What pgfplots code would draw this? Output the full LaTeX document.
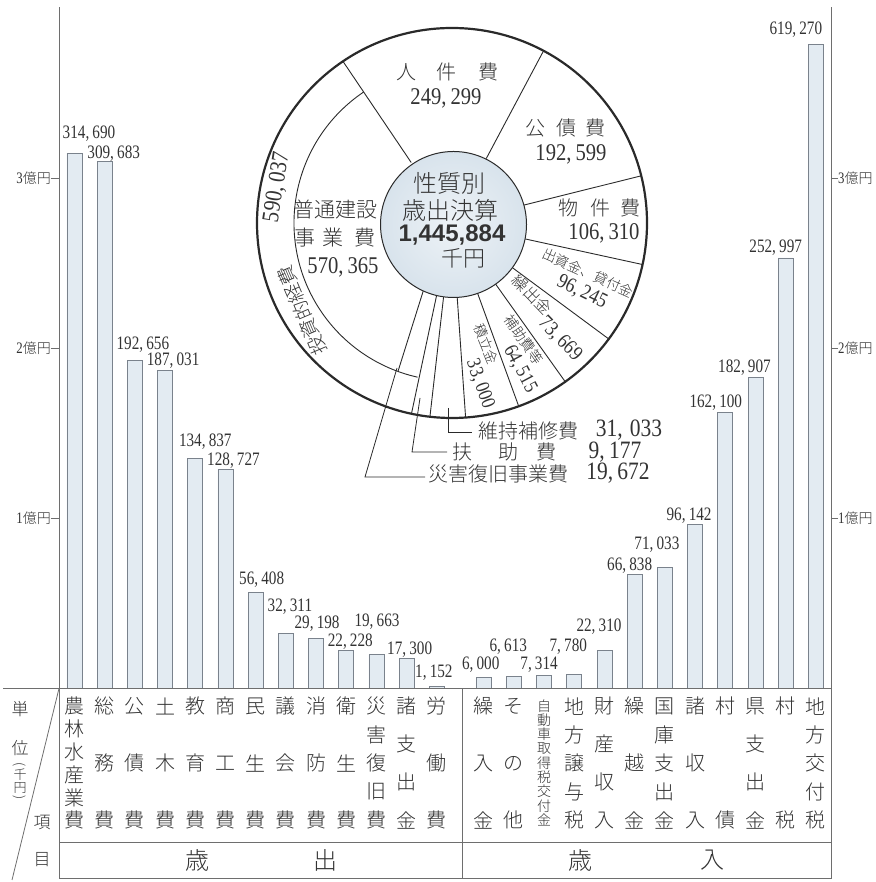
\documentclass[border=0pt]{standalone}
\usepackage{pgfplots}
\pgfplotsset{compat=1.18}
\usepackage{pgfplotstable}
\usepackage{fontspec}
\setmainfont{Noto Sans CJK JP Light}
\newfontfamily\num{Liberation Serif}[FakeStretch=0.8]
\newfontfamily\pnum{Liberation Serif}[FakeStretch=0.86]
\newfontfamily\bnum{Liberation Sans}
\newcommand\fs[1]{\fontsize{#1}{#1}\selectfont}
\definecolor{barfill}{HTML}{E3EBF2}
\definecolor{baredge}{HTML}{7A828C}
\definecolor{txt}{HTML}{333333}
\definecolor{tbl}{HTML}{6E6E6E}
\definecolor{pieline}{HTML}{2A2A2A}
\definecolor{centerfill}{HTML}{D8E3EC}

\newdimen\cbh \cbh=20pt
\newcommand\cbox[1]{\hbox to 24pt{\hss\vbox to \cbh{\vss\hbox{#1}\vss}\hss}}
\let\vsend\relax
\def\vsfirst#1{\cbox{#1}\vsrest}
\def\vsrest#1{\ifx\vsend#1\else\vfill\cbox{#1}\expandafter\vsrest\fi}
\protected\def\vs#1{\vbox to 134pt{\offinterlineskip\vsfirst#1\vsend}}
\protected\def\vsmall#1{{\fs{14}\cbh=14pt\vbox to 134pt{\offinterlineskip\kern3pt\vsfirst#1\vsend\kern3pt}}}

\pgfplotstableread{
x y dx dy lab
0 314690 14.5 19 314,\,690
1 309683 9 8 309,\,683
2 192656 8 16 192,\,656
3 187031 8 9 187,\,031
4 134837 10 17 134,\,837
5 128727 8 9 128,\,727
6 56408 6 12 56,\,408
7 32311 4 26 32,\,311
8 29198 1 15 29,\,198
9 22228 4 9 22,\,228
10 19663 0.5 33 19,\,663
11 17300 3 9 17,\,300
12 1152 -3 13 1,\,152
13.55 6000 -3 13 6,\,000
14.55 6613 -5.6 30 6,\,613
15.55 7314 -5 10.6 7,\,314
16.55 7780 -6 28 7,\,780
17.55 22310 -5.5 23 22,\,310
18.55 66838 -5 9 66,\,838
19.55 71033 -8 23 71,\,033
20.55 96142 -6 9 96,\,142
21.55 162100 -9.5 9.4 162,\,100
22.55 182907 -11 9 182,\,907
23.55 252997 -10 10 252,\,997
24.55 378800 -20 14 619,\,270
}\bardata

\begin{document}
\begin{tikzpicture}[every node/.append style={text=txt}]
\path[use as bounding box] (0,0) rectangle (875pt,882pt);

\begin{axis}[
  at={(59pt,194pt)}, anchor=south west,
  scale only axis, width=772pt, height=681pt,
  xmin=-0.513, xmax=25.05, ymin=0, ymax=400588,
  axis y line*=left, axis x line*=bottom,
  x axis line style={draw=none},
  y axis line style={draw=tbl, line width=0.8pt, -},
  xtick={0,1,2,3,4,5,6,7,8,9,10,11,12,13.55,14.55,15.55,16.55,17.55,18.55,19.55,20.55,21.55,22.55,23.55,24.55},
  xticklabels={\vs{農林水産業費},\vs{総務費},\vs{公債費},\vs{土木費},\vs{教育費},\vs{商工費},\vs{民生費},\vs{議会費},\vs{消防費},\vs{衛生費},\vs{災害復旧費},\vs{諸支出金},\vs{労働費},\vs{繰入金},\vs{その他},\vsmall{自動車取得税交付金},\vs{地方譲与税},\vs{財産収入},\vs{繰越金},\vs{国庫支出金},\vs{諸収入},\vs{村債},\vs{県支出金},\vs{村税},\vs{地方交付税}},
  xtick style={draw=none},
  xticklabel style={anchor=north, inner sep=0pt, font=\fs{20}, text=txt},
  ytick={100000,200000,300000},
  yticklabels={{\num\fs{16}1}億円,{\num\fs{16}2}億円,{\num\fs{16}3}億円},
  scaled y ticks=false,
  tick align=outside, major tick length=8pt,
  ytick style={draw=tbl, line width=0.8pt},
  yticklabel style={anchor=east, inner sep=0pt, font=\fs{14}, text=txt},
  clip=false,
  ybar, bar width=15pt,
]
\addplot[fill=barfill, draw=baredge, line width=0.7pt,
  nodes near coords, point meta=explicit symbolic,
  visualization depends on={\thisrow{dx}\as\dx},
  visualization depends on={\thisrow{dy}\as\dy},
  every node near coord/.append style={anchor=center, xshift=\dx, yshift=\dy,
     font=\num\fs{19}, text=txt, inner sep=0pt}]
  table[x=x, y=y, meta=lab] {\bardata};
\end{axis}

\begin{axis}[
  at={(59pt,194pt)}, anchor=south west,
  scale only axis, width=772pt, height=681pt,
  xmin=-0.513, xmax=25.05, ymin=0, ymax=400588,
  axis y line*=right, axis x line=none,
  y axis line style={draw=tbl, line width=0.8pt, -},
  ytick={100000,200000,300000},
  yticklabels={{\num\fs{16}1}億円,{\num\fs{16}2}億円,{\num\fs{16}3}億円},
  scaled y ticks=false,
  tick align=outside, major tick length=7pt,
  ytick style={draw=tbl, line width=0.8pt},
  yticklabel style={anchor=west, inner sep=0pt, font=\fs{14}, text=txt},
]
\addplot[draw=none] coordinates {(0,0)};
\end{axis}

% table frame and pixel-space annotations
\begin{scope}[shift={(0,882pt)}, x=1pt, y=-1pt]
  \draw[tbl, line width=0.8pt] (3,688.5) -- (831,688.5);
  \draw[tbl, line width=0.8pt] (59,688.5) -- (59,878) -- (831,878) -- (831,688.5);
  \draw[tbl, line width=0.8pt] (59,842) -- (831,842);
  \draw[tbl, line width=0.8pt] (462,688.5) -- (462,878);
  \draw[tbl, line width=0.8pt] (59,688.5) -- (12,880);
  \begin{scope}[every node/.append style={font=\fs{17}, inner sep=0pt}]
    \node at (20,709) {単};
    \node at (20,748) {位};
    \node[rotate=-90, font=\fs{13}] at (20,765) {(};
    \node[font=\fs{13}] at (20,775) {千};
    \node[font=\fs{13}] at (20,788) {円};
    \node[rotate=-90, font=\fs{13}] at (20,798) {)};
    \node at (42,823) {項};
    \node at (42,860) {目};
  \end{scope}
  \begin{scope}[every node/.append style={font=\fs{24}, inner sep=0pt}]
    \node at (197,860) {歳};
    \node at (325,860) {出};
    \node at (580,860) {歳};
    \node at (712,860) {入};
  \end{scope}
  % leader lines
  \draw[pieline, line width=0.8pt] (448,408) -- (448,432) -- (472,432);
  \draw[pieline, line width=0.8pt] (420,398) -- (412,452) -- (447,452);
  \draw[pieline, line width=0.8pt] (397,368) -- (365,477) -- (425,477);
  \node[anchor=west, font=\fs{20}, inner sep=0pt] at (478,431) {維持補修費};
  \node[font=\pnum\fs{25}, inner sep=0pt] at (629,430) {31,\;033};
  \node[anchor=west, font=\fs{20}, inner sep=0pt] at (452,452) {扶\hspace{26pt}助\hspace{18pt}費};
  \node[font=\pnum\fs{25}, inner sep=0pt] at (615,452) {9,\,177};
  \node[anchor=west, font=\fs{20}, inner sep=0pt] at (428,474) {災害復旧事業費};
  \node[font=\pnum\fs{25}, inner sep=0pt] at (618,473) {19,\,672};
\end{scope}

% pie (origin at pie centre, y up)
\begin{scope}[shift={(452pt,659pt)}, x=1pt, y=1pt]
  \foreach \a in {124,62,14,-12.3,-36.5,-54.5,-70,-86,-96.5,-102}
    \draw[pieline, line width=0.9pt] (\a:73) -- (\a:195);
  \draw[pieline, line width=0.9pt] (-113:73) -- (-110:158);
  \draw[pieline, line width=0.9pt] (124:158) arc[start angle=124, end angle=257.4, radius=158];
  \draw[pieline, line width=2.2pt] (0,0) circle (195);
  \shade[inner color=white!55!centerfill, outer color=centerfill] (1.5,-1.5) circle (73);
  \draw[pieline, line width=1pt] (1.5,-1.5) circle (73);
  \begin{scope}[every node/.append style={inner sep=0pt}]
  \node[font=\fs{20}] at (-5,151) {人\hspace{20pt}件\hspace{22pt}費};
  \node[font=\pnum\fs{24}] at (-6,125) {249,\,299};
  \node[font=\fs{20}] at (113,95) {公\hspace{11pt}債\hspace{9pt}費};
  \node[font=\pnum\fs{24}] at (119,69) {192,\,599};
  \node[font=\fs{20}] at (147,15) {物\hspace{12pt}件\hspace{10pt}費};
  \node[font=\pnum\fs{24}] at (152,-10) {106,\,310};
  \node[font=\fs{14}, rotate=-24] at (136,-50) {出資金、貸付金};
  \node[font=\pnum\fs{21}, rotate=-26] at (130,-69) {96,\,245};
  \node[font=\fs{16}, rotate=-46] at (80,-72) {繰出金};
  \node[font=\pnum\fs{21}, rotate=-46] at (108,-116) {73,\,669};
  \node[font=\fs{14}, rotate=-55] at (71.6,-116.8) {補助費等};
  \node[font=\pnum\fs{20}, rotate=-62] at (68,-146) {64,\,515};
  \node[font=\fs{14}, rotate=-68] at (34,-121) {積立金};
  \node[font=\pnum\fs{20}, rotate=-70] at (28,-161) {33,\,000};
  \node[font=\fs{21}] at (-117,13) {普通建設};
  \node[font=\fs{21}] at (-117,-15) {事\hspace{8pt}業\hspace{11pt}費};
  \node[font=\pnum\fs{24}] at (-109,-44) {570,\,365};
  \node[font=\pnum\fs{24}, rotate=81] at (-175,36) {590,\,037};
  \node[font=\fs{19}, rotate=113] at (-150,-88) {投資的経費};
  \node[font=\fs{24}] at (-3,40) {性質別};
  \node[font=\fs{24}] at (-2,13) {歳出決算};
  \node[font=\bnum\bfseries\fs{24}] at (0,-12) {1,445,884};
  \node[font=\fs{22}] at (11,-35) {千円};
  \end{scope}
\end{scope}
\end{tikzpicture}
\end{document}
